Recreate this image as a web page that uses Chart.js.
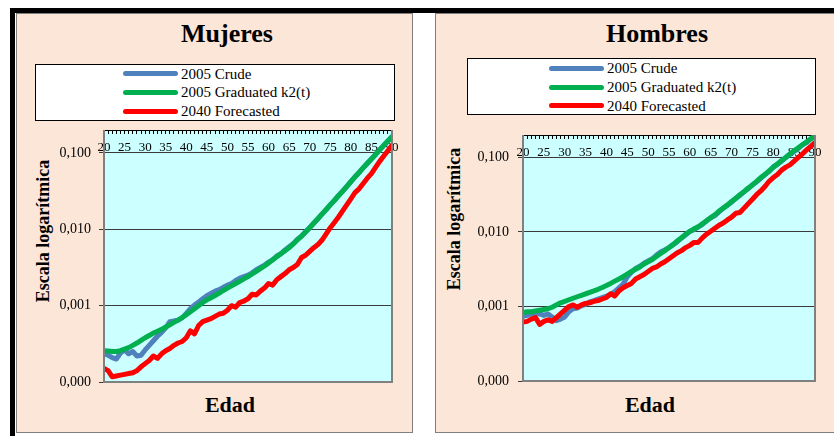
<!DOCTYPE html>
<html>
<head>
<meta charset="utf-8">
<script src="https://cdn.jsdelivr.net/npm/chart.js@4"></script>
<style>
  html, body { margin: 0; padding: 0; }
  body {
    width: 834px; height: 436px; position: relative; overflow: hidden;
    background: #fff; color: #000; font-family: "Liberation Serif", "Times New Roman", serif;
  }
  .frame-top { position: absolute; left: 10px; top: 8px; width: 824px; height: 5px; background: #000; }
  .frame-left { position: absolute; left: 10px; top: 8px; width: 5px; height: 428px; background: #000; }
  .panel {
    position: absolute; top: 13px; height: 420px; box-sizing: border-box;
    background: #fce6d8; border: 1px solid #7f7f7f;
  }
  .title {
    position: absolute; width: 200px; margin-left: -100px; top: 19px;
    font-size: 26px; line-height: 30px; font-weight: bold; text-align: center;
  }
  .legend {
    position: absolute; height: 57px; box-sizing: border-box;
    background: #fff; border: 1px solid #000;
  }
  .legend .row { position: absolute; left: 0; height: 18px; font-size: 15px; line-height: 18px; white-space: nowrap; }
  .legend .swatch { position: absolute; top: 6.5px; width: 55px; height: 5px; border-radius: 3px; }
  .legend .txt { position: absolute; top: 0; }
  .ytitle {
    position: absolute; font-size: 18px; line-height: 20px; font-weight: bold; white-space: nowrap;
    transform: translate(-50%, -50%) rotate(-90deg);
  }
  .xtitle {
    position: absolute; width: 120px; margin-left: -60px; top: 392px;
    font-size: 22px; line-height: 26px; font-weight: bold; text-align: center;
  }
  canvas { position: absolute; }
</style>
</head>
<body>
  <div class="frame-top"></div>
  <div class="frame-left"></div>

  <div class="panel" style="left:16px; width:397px;"></div>
  <div class="panel" style="left:435px; width:410px;"></div>

  <div class="title" style="left:227px;">Mujeres</div>
  <div class="title" style="left:657px;">Hombres</div>

  <div class="legend" id="legM" style="left:35px; top:64px; width:360px;"></div>
  <div class="legend" id="legH" style="left:467px; top:58px; width:349px;"></div>

  <div class="ytitle" style="left:43px; top:231px;">Escala logarítmica</div>
  <div class="ytitle" style="left:454px; top:219px;">Escala logarítmica</div>

  <div class="xtitle" style="left:230px;">Edad</div>
  <div class="xtitle" style="left:650px;">Edad</div>

  <canvas id="chartM" width="352" height="270" style="left:50px; top:125px;"></canvas>
  <canvas id="chartH" width="357" height="264" style="left:470px; top:130px;"></canvas>

<script>
// ages on the x axis
const ages = [20,21,22,23,24,25,26,27,28,29,30,31,32,33,34,35,36,37,38,39,
  40,41,42,43,44,45,46,47,48,49,50,51,52,53,54,55,56,57,58,59,
  60,61,62,63,64,65,66,67,68,69,70,71,72,73,74,75,76,77,78,79,
  80,81,82,83,84,85,86,87,88,89,90];

const yTicks = [0.0001, 0.001, 0.01, 0.1];
const seriesNames = ['2005 Crude', '2005 Graduated k2(t)', '2040 Forecasted'];
const seriesColors = ['#4f81bd', '#00b050', '#ff0000'];

// Mujeres
const mujCrude = [0.000234,0.000224,0.000209,0.000200,0.000240,0.000263,0.000234,0.000251,0.000219,0.000224,
  0.000263,0.000302,0.000347,0.000398,0.000447,0.000513,0.000617,0.000631,0.000646,0.000692,
  0.000794,0.000912,0.00102,0.00112,0.00123,0.00135,0.00145,0.00155,0.00162,0.00174,
  0.00186,0.00195,0.00214,0.00229,0.00240,0.00251,0.00269,0.00295,0.00316,0.00339,
  0.00372,0.00398,0.00447,0.00479,0.00537,0.00589,0.00646,0.00741,0.00813,0.00933,
  0.0105,0.0121,0.0137,0.0159,0.0180,0.0210,0.0238,0.0278,0.0314,0.0366,
  0.0420,0.0487,0.0552,0.0642,0.0728,0.0838,0.0950,0.110,0.1255,0.1435,
  0.163];
const mujGrad = [0.000257,0.000254,0.000251,0.000251,0.000257,0.000269,0.000282,0.000302,0.000324,0.000351,
  0.000380,0.000407,0.000437,0.000462,0.000490,0.000525,0.000562,0.000603,0.000646,0.000700,
  0.000759,0.000832,0.000912,0.00100,0.00110,0.00119,0.00127,0.00136,0.00146,0.00158,
  0.00170,0.00182,0.00195,0.00209,0.00224,0.00240,0.00260,0.00282,0.00305,0.00331,
  0.00363,0.00398,0.00437,0.00479,0.00525,0.00575,0.00646,0.00724,0.00813,0.00923,
  0.0105,0.0120,0.0138,0.0158,0.0182,0.0209,0.0240,0.0275,0.0316,0.0363,
  0.0422,0.0484,0.0556,0.0638,0.0733,0.0832,0.0955,0.110,0.126,0.143,
  0.164];
const mujFore = [0.000151,0.000141,0.000117,0.000120,0.000123,0.000126,0.000129,0.000132,0.000141,0.000158,
  0.000174,0.000191,0.000219,0.000204,0.000234,0.000257,0.000275,0.000302,0.000324,0.000339,
  0.000380,0.000468,0.000427,0.000550,0.000617,0.000646,0.000676,0.000724,0.000776,0.000794,
  0.000871,0.00100,0.000955,0.00110,0.00115,0.00123,0.00141,0.00138,0.00155,0.00170,
  0.00195,0.00186,0.00219,0.00240,0.00263,0.00295,0.00316,0.00347,0.00427,0.00457,
  0.00513,0.00575,0.00631,0.00724,0.00871,0.0105,0.0123,0.0145,0.0174,0.0209,
  0.0251,0.0302,0.0339,0.0398,0.0468,0.0537,0.0646,0.0776,0.0912,0.107,
  0.126];

// Hombres
const homCrude = [0.000741,0.000759,0.000794,0.000813,0.000794,0.000759,0.000794,0.000724,0.000646,0.000676,
  0.000724,0.000851,0.000933,0.000955,0.00102,0.00107,0.00115,0.00120,0.00126,0.00132,
  0.00138,0.00145,0.00158,0.00178,0.00200,0.00251,0.00288,0.00324,0.00347,0.00380,
  0.00407,0.00437,0.00490,0.00537,0.00575,0.00617,0.00676,0.00741,0.00832,0.00912,
  0.0102,0.0107,0.0117,0.0126,0.0141,0.0155,0.0166,0.0186,0.0209,0.0229,
  0.0251,0.0282,0.0309,0.0347,0.0380,0.0427,0.0468,0.0525,0.0589,0.0646,
  0.0741,0.0813,0.0891,0.100,0.110,0.120,0.132,0.148,0.158,0.178,
  0.191];
const homGrad = [0.000832,0.000851,0.000851,0.000871,0.000891,0.000912,0.000933,0.000977,0.00105,0.00112,
  0.00117,0.00123,0.00129,0.00135,0.00141,0.00148,0.00155,0.00162,0.00170,0.00180,
  0.00191,0.00204,0.00219,0.00234,0.00251,0.00272,0.00295,0.00316,0.00339,0.00372,
  0.00398,0.00427,0.00468,0.00513,0.00562,0.00617,0.00676,0.00759,0.00832,0.00933,
  0.0102,0.0110,0.0117,0.0129,0.0141,0.0155,0.0170,0.0191,0.0209,0.0229,
  0.0257,0.0282,0.0316,0.0347,0.0389,0.0427,0.0479,0.0537,0.0589,0.0661,
  0.0741,0.0813,0.0912,0.100,0.112,0.123,0.135,0.148,0.162,0.178,
  0.195];
const homFore = [0.000617,0.000631,0.000676,0.000708,0.000575,0.000631,0.000661,0.000631,0.000708,0.000794,
  0.000891,0.00100,0.00105,0.000977,0.00105,0.00110,0.00112,0.00117,0.00120,0.00126,
  0.00132,0.00148,0.00138,0.00162,0.00178,0.00191,0.00204,0.00234,0.00251,0.00269,
  0.00295,0.00324,0.00339,0.00372,0.00398,0.00437,0.00479,0.00525,0.00562,0.00617,
  0.00661,0.00724,0.00724,0.00832,0.00933,0.0102,0.0112,0.0123,0.0132,0.0145,
  0.0158,0.0178,0.0182,0.0209,0.0240,0.0275,0.0316,0.0355,0.0407,0.0479,
  0.0537,0.0589,0.0676,0.0741,0.0794,0.0891,0.100,0.112,0.126,0.141,
  0.158];

const FONT = 'Liberation Serif';
Chart.defaults.font.family = FONT;
Chart.defaults.color = '#000';

// cyan plot background + grey frame on the left, bottom and right sides
const plotFrame = {
  id: 'plotFrame',
  beforeDraw(chart) {
    const { ctx, chartArea: a } = chart;
    ctx.save();
    ctx.fillStyle = '#ccffff';
    ctx.fillRect(a.left, a.top, a.right - a.left, a.bottom - a.top);
    ctx.restore();
  },
  afterDraw(chart) {
    const { ctx, chartArea: a } = chart;
    ctx.save();
    ctx.strokeStyle = '#808080';
    ctx.lineWidth = 2;
    ctx.beginPath();
    ctx.moveTo(a.left, a.top);
    ctx.lineTo(a.left, a.bottom);
    ctx.lineTo(a.right, a.bottom);
    ctx.lineTo(a.right, a.top);
    ctx.stroke();
    ctx.restore();
  }
};

function legend(id, swatchX, firstTop) {
  const box = document.getElementById(id);
  box.innerHTML = seriesNames.map((name, i) => `
    <div class="row" style="top:${firstTop + i * 18.7}px;">
      <span class="swatch" style="left:${swatchX}px; background:${seriesColors[i]};"></span>
      <span class="txt" style="left:${swatchX + 58}px;">${name}</span>
    </div>`).join('');
}

function buildChart(id, crude, grad, fore, yWidth, yPad, padRight) {
  return new Chart(document.getElementById(id), {
    type: 'line',
    data: {
      labels: ages,
      datasets: [
        { label: seriesNames[0], data: crude, borderColor: seriesColors[0], order: 3 },
        { label: seriesNames[1], data: grad, borderColor: seriesColors[1], order: 2 },
        { label: seriesNames[2], data: fore, borderColor: seriesColors[2], order: 1 }
      ]
    },
    options: {
      responsive: false,
      animation: false,
      layout: { padding: { top: 5, right: padRight, bottom: 13, left: 0 } },
      elements: {
        line: { borderWidth: 5, tension: 0, fill: false, borderCapStyle: 'round', borderJoinStyle: 'round' },
        point: { radius: 0 }
      },
      plugins: { legend: { display: false }, tooltip: { enabled: false } },
      scales: {
        x: {
          type: 'linear', position: 'top', min: 20, max: 90,
          afterFit: a => { a.height = 0; a.paddingLeft = 0; a.paddingRight = 0; },
          border: { display: true, color: '#000', width: 1 },
          grid: { drawOnChartArea: false, drawTicks: true, tickLength: -4, color: '#000', lineWidth: 1 },
          ticks: {
            stepSize: 1, autoSkip: false, maxRotation: 0, minRotation: 0,
            mirror: true, padding: 10, color: '#000',
            font: { family: FONT, size: 13 },
            callback: v => (v % 5 === 0 ? String(v) : '')
          }
        },
        y: {
          type: 'logarithmic', min: 0.0001, max: 0.2,
          afterFit: a => { a.width = yWidth; a.paddingTop = 0; a.paddingBottom = 0; },
          afterBuildTicks: a => { a.ticks = yTicks.map(v => ({ value: v })); },
          border: { display: false },
          grid: { color: '#3a3a3a', lineWidth: 1, tickLength: 5, drawTicks: true },
          ticks: {
            padding: yPad, color: '#000',
            font: { family: FONT, size: 14 },
            callback: v => Number(v).toFixed(3).replace('.', ',')
          }
        }
      }
    },
    plugins: [plotFrame]
  });
}

legend('legM', 87, -0.3);
legend('legH', 81, 0.3);
buildChart('chartM', mujCrude, mujGrad, mujFore, 54, 8, 10);
buildChart('chartH', homCrude, homGrad, homFore, 53, 9, 12);
</script>
</body>
</html>
